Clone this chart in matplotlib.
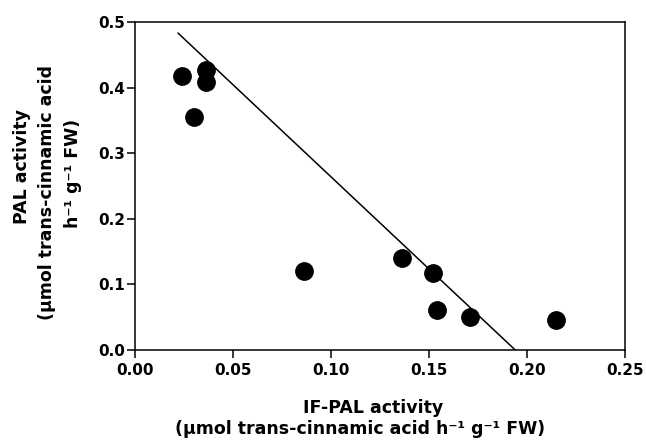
import matplotlib
matplotlib.use("Agg")
import matplotlib.pyplot as plt

plt.rcParams["font.family"] = ["DejaVu Sans"]
plt.rcParams["font.weight"] = "bold"

# IF-PAL activity vs PAL activity
if_pal = [0.024, 0.036, 0.036, 0.030, 0.086, 0.136, 0.152, 0.154, 0.171, 0.215]
pal = [0.418, 0.427, 0.408, 0.355, 0.120, 0.140, 0.117, 0.061, 0.050, 0.045]

# regression line end points
fit_x = [0.022, 0.194]
fit_y = [0.483, 0.0]

xticks = [0.00, 0.05, 0.10, 0.15, 0.20, 0.25]
yticks = [0.0, 0.1, 0.2, 0.3, 0.4, 0.5]

W, H = 646, 440
fig = plt.figure(figsize=(W / 100, H / 100), dpi=100)
ax = fig.add_axes([135 / W, 1 - 350 / H, 490 / W, 328 / H])

ax.plot(fit_x, fit_y, color="black", lw=1.1, zorder=2)
ax.plot(if_pal, pal, "o", color="black", ms=12.5, zorder=3, clip_on=False)

ax.set_xlim(0, 0.25)
ax.set_ylim(0, 0.5)
ax.set_xticks(xticks)
ax.set_yticks(yticks)
ax.set_xticklabels([f"{v:.2f}" for v in xticks])
ax.set_yticklabels([f"{v:.1f}" for v in yticks])

for sp in ax.spines.values():
    sp.set_linewidth(1.1)

ax.tick_params(axis="both", direction="out", length=5.5, width=1.1,
               labelsize=11, top=False, right=False)
ax.tick_params(axis="x", pad=4)
ax.tick_params(axis="y", pad=1.5)

# axis titles, one text per line
fs = 12.5
fig.text(373 / W, 1 - 413 / H, "IF-PAL activity", ha="center", va="baseline",
         fontsize=fs, fontweight="bold")
fig.text(360 / W, 1 - 434 / H, "(µmol trans-cinnamic acid h⁻¹ g⁻¹ FW)",
         ha="center", va="baseline", fontsize=fs, fontweight="bold")

fig.text(22 / W, 1 - 166 / H, "PAL activity", rotation=90,
         ha="center", va="center", fontsize=fs, fontweight="bold")
fig.text(47 / W, 1 - 192 / H, "(µmol trans-cinnamic acid", rotation=90,
         ha="center", va="center", fontsize=fs, fontweight="bold")
fig.text(73 / W, 1 - 173 / H, "h⁻¹ g⁻¹ FW)", rotation=90,
         ha="center", va="center", fontsize=fs, fontweight="bold")

fig.savefig("out.png", dpi=100)
